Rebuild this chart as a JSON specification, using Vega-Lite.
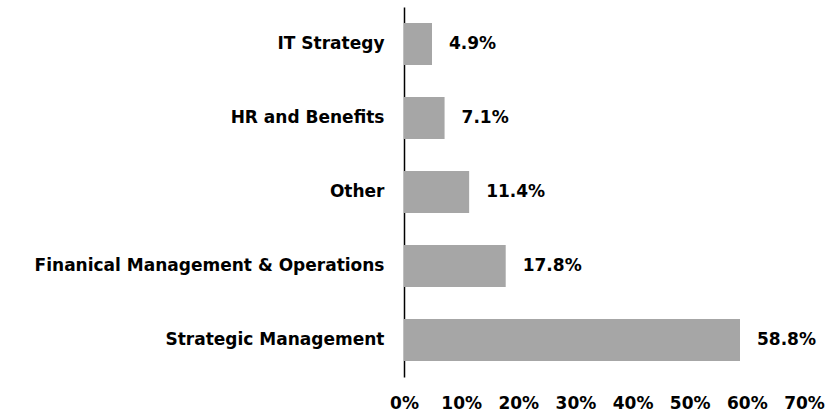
{
  "$schema": "https://vega.github.io/schema/vega-lite/v6.json",
  "autosize": {"type": "none"},
  "padding": {"left": 404, "top": 7, "right": 36, "bottom": 37},
  "width": 400,
  "height": 370,
  "background": "white",
  "data": {"values": [
    {"category": "IT Strategy", "value": 0.049, "label": "4.9%"},
    {"category": "HR and Benefits", "value": 0.071, "label": "7.1%"},
    {"category": "Other", "value": 0.114, "label": "11.4%"},
    {"category": "Finanical Management & Operations", "value": 0.178, "label": "17.8%"},
    {"category": "Strategic Management", "value": 0.588, "label": "58.8%"}
  ]},
  "encoding": {
    "y": {"field": "category", "type": "nominal", "sort": null,
      "scale": {"paddingInner": 0.43, "paddingOuter": 0.215},
      "axis": {"title": null, "domain": true, "domainColor": "#000000", "domainWidth": 1.5, "ticks": false, "labelPadding": 20, "labelLimit": 400, "labelFont": "DejaVu Sans", "labelFontWeight": "bold", "labelFontSize": 17, "labelColor": "#000000", "grid": false}},
    "x": {"field": "value", "type": "quantitative",
      "scale": {"domain": [0, 0.7], "nice": false},
      "axis": {"title": null, "domain": false, "ticks": false, "grid": false, "format": ".0%", "values": [0, 0.1, 0.2, 0.3, 0.4, 0.5, 0.6, 0.7], "labelPadding": 18, "labelFont": "DejaVu Sans", "labelFontWeight": "bold", "labelFontSize": 17, "labelColor": "#000000", "labelFlush": false}}
  },
  "layer": [
    {"mark": {"type": "bar", "color": "#a6a6a6"}},
    {"mark": {"type": "text", "align": "left", "baseline": "middle", "dx": 17, "font": "DejaVu Sans", "fontWeight": "bold", "fontSize": 17, "color": "#000000"},
     "encoding": {"text": {"field": "label"}}}
  ],
  "config": {"view": {"stroke": null}}
}
